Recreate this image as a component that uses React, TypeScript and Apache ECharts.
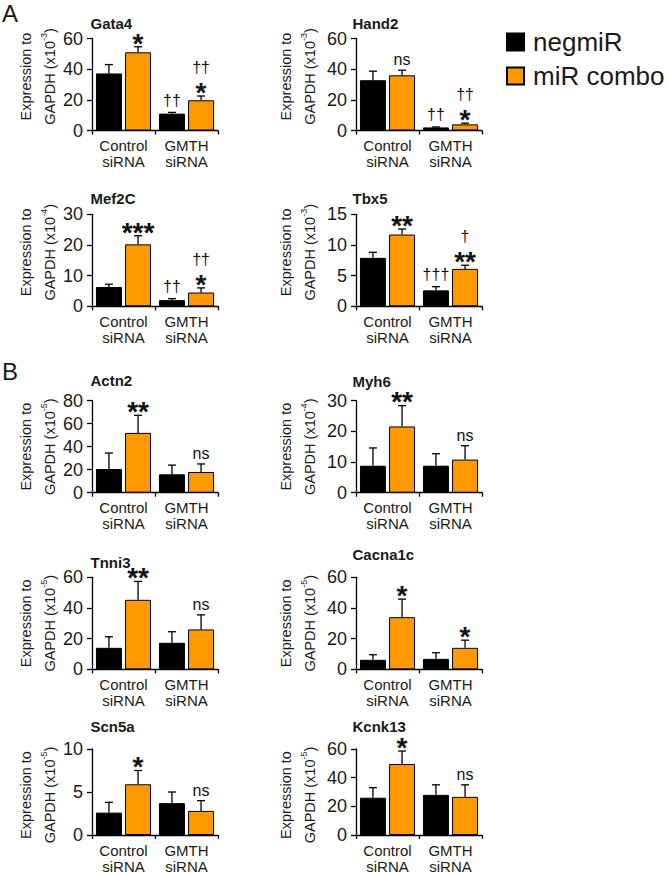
import React, { useEffect, useRef } from "react";
import * as echarts from "echarts";

const FONT = '"Liberation Sans", Arial, Helvetica, sans-serif';
const TEXT = "#1a1a1a";

// ---------- data ----------
const groups = ["Control\nsiRNA", "GMTH\nsiRNA"];
const seriesNames = ["negmiR", "miR combo"];
const panelTitles = ["Gata4", "Hand2", "Mef2C", "Tbx5", "Actn2", "Myh6", "Tnni3", "Cacna1c", "Scn5a", "Kcnk13"];
const exponents = ["-3", "-3", "-4", "-3", "-5", "-4", "-5", "-5", "-5", "-5"];
const yMax = [60, 60, 30, 15, 80, 30, 60, 60, 10, 60];
const yStep = [20, 20, 10, 5, 20, 10, 20, 20, 5, 20];

// values: [Control siRNA, GMTH siRNA]
const negmiR = [
  [37.2, 11], [32.8, 2], [6.3, 2], [7.9, 2.6], [20.6, 16],
  [8.8, 8.8], [14, 17.3], [6.2, 6.8], [2.6, 3.7], [26, 28],
];
const negmiRErr = [
  [5.8, 0.8], [5.9, 0.3], [0.9, 0.5], [0.9, 0.6], [13.9, 8],
  [5.8, 3.9], [7.2, 7.2], [3.3, 4.0], [1.2, 1.3], [7, 7],
];
const miRcombo = [
  [51, 19.7], [36, 4], [20.2, 4.5], [11.7, 6.1], [52, 18],
  [21.6, 10.8], [45.3, 26], [34, 14], [5.9, 2.8], [49.5, 26.6],
];
const miRcomboErr = [
  [3.6, 2.8], [3.3, 0.8], [2.8, 1.5], [0.9, 0.6], [15.3, 7],
  [6.8, 4.5], [12, 9.5], [11.8, 5], [1.6, 1.2], [9.1, 8.4],
];
// significance marks per bar, listed bottom to top:
// [negmiR Control, miR combo Control, negmiR GMTH, miR combo GMTH]
const marks = [
  [[], ["*"], ["††"], ["*", "††"]],
  [[], ["ns"], ["††"], ["*", "††"]],
  [[], ["***"], ["††"], ["*", "††"]],
  [[], ["**"], ["†††"], ["**", "†"]],
  [[], ["**"], [], ["ns"]],
  [[], ["**"], [], ["ns"]],
  [[], ["**"], [], ["ns"]],
  [[], ["*"], [], ["*"]],
  [[], ["*"], [], ["ns"]],
  [[], ["*"], [], ["ns"]],
];

// ---------- layout ----------
const colLeft = [92, 356];
const rowTop = [38.5, 214.3, 400.7, 577.3, 749];
const PLOT_W = 126;
const PLOT_H = 92;
const BAR_W = 26;
const BAR_GAP = 0.12;
const titleY = [23.7, 23.7, 198.3, 198.8, 380.5, 381, 562.8, 554, 726.7, 726];
const titleX = [90.5, 352.5];
const yTitleX1 = [26, 286];
const yTitleX2 = [48.5, 308.5];
const yTitleShift = [-8, -8, -8, -8, 0, 0, 0, 0, 0, 0];

function markStyle(m: string) {
  if (m.indexOf("*") >= 0) return { font: `bold 28px ${FONT}`, shift: 6.8, gap: 10.5 };
  if (m.indexOf("†") >= 0) return { font: `16px ${FONT}`, shift: -1, gap: 11 };
  return { font: `16px ${FONT}`, shift: -1.4, gap: 9 };
}

function buildOption() {
  const grid: any[] = [];
  const xAxis: any[] = [];
  const yAxis: any[] = [];
  const series: any[] = [];
  const graphic: any[] = [];
  const half = (BAR_W * 2 + BAR_W * BAR_GAP) / 2;
  const offs = [-(half - BAR_W / 2), half - BAR_W / 2];

  panelTitles.forEach((title, i) => {
    const col = i % 2;
    const row = Math.floor(i / 2);
    grid.push({ left: colLeft[col], top: rowTop[row], width: PLOT_W, height: PLOT_H });
    xAxis.push({
      type: "category",
      gridIndex: i,
      data: groups,
      axisLine: { lineStyle: { color: "#000", width: 1.3 } },
      axisTick: { show: true, length: 4, lineStyle: { color: "#000", width: 1.3 } },
      axisLabel: { fontSize: 15, lineHeight: 16, margin: 7, color: TEXT, fontFamily: FONT, interval: 0 },
    });
    yAxis.push({
      type: "value",
      gridIndex: i,
      min: 0,
      max: yMax[i],
      interval: yStep[i],
      axisLine: { show: true, lineStyle: { color: "#000", width: 1.3 } },
      axisTick: { show: true, length: 5, lineStyle: { color: "#000", width: 1.3 } },
      axisLabel: { fontSize: 18, margin: 9, color: TEXT, fontFamily: FONT },
      splitLine: { show: false },
    });
    series.push({
      type: "bar",
      name: seriesNames[0],
      xAxisIndex: i,
      yAxisIndex: i,
      data: negmiR[i],
      barWidth: BAR_W,
      barGap: `${BAR_GAP * 100}%`,
      itemStyle: { color: "#000", borderColor: "#000", borderWidth: 1 },
    });
    series.push({
      type: "bar",
      name: seriesNames[1],
      xAxisIndex: i,
      yAxisIndex: i,
      data: miRcombo[i],
      barWidth: BAR_W,
      barGap: `${BAR_GAP * 100}%`,
      itemStyle: { color: "#FF9900", borderColor: "#000", borderWidth: 1 },
    });
    const errData = [
      [0, 0, negmiR[i][0], negmiRErr[i][0]],
      [0, 1, miRcombo[i][0], miRcomboErr[i][0]],
      [1, 0, negmiR[i][1], negmiRErr[i][1]],
      [1, 1, miRcombo[i][1], miRcomboErr[i][1]],
    ];
    const panelMarks = marks[i];
    series.push({
      type: "custom",
      name: "err" + i,
      xAxisIndex: i,
      yAxisIndex: i,
      z: 5,
      data: errData,
      renderItem: (params: any, api: any) => {
        const cat = api.value(0);
        const s = api.value(1);
        const mean = api.value(2);
        const err = api.value(3);
        const base = api.coord([cat, mean]);
        const top = api.coord([cat, mean + err]);
        const x = base[0] + offs[s];
        const children: any[] = [
          { type: "line", shape: { x1: x, y1: base[1], x2: x, y2: top[1] }, style: { stroke: "#000", lineWidth: 1.3 } },
          { type: "line", shape: { x1: x - 4, y1: top[1], x2: x + 4, y2: top[1] }, style: { stroke: "#000", lineWidth: 1.3 } },
        ];
        const list: string[] = panelMarks[params.dataIndex] || [];
        let center = top[1];
        list.forEach((m, k) => {
          const st = markStyle(m);
          center = k === 0 ? top[1] - st.gap : center - 17;
          children.push({
            type: "text",
            style: {
              text: m,
              x,
              y: center + st.shift,
              align: "center",
              verticalAlign: "middle",
              font: st.font,
              fill: "#111",
            },
          });
        });
        return { type: "group", children };
      },
    });

    // title
    graphic.push({
      type: "text",
      x: titleX[col],
      y: titleY[i],
      style: { text: title, font: `bold 15px ${FONT}`, fill: TEXT, align: "left", verticalAlign: "middle" },
    });
    // y axis titles
    const cy = rowTop[row] + PLOT_H / 2 + yTitleShift[i];
    graphic.push({
      type: "text",
      x: yTitleX1[col],
      y: cy,
      rotation: Math.PI / 2,
      style: { text: "Expression to", font: `14.5px ${FONT}`, fill: TEXT, align: "center", verticalAlign: "middle" },
    });
    graphic.push({
      type: "text",
      x: yTitleX2[col],
      y: cy,
      rotation: Math.PI / 2,
      style: {
        text: `{a|GAPDH (x10}{s|${exponents[i]}}{a|)}`,
        align: "center",
        verticalAlign: "middle",
        rich: {
          a: { fontSize: 14.5, fontFamily: FONT, fill: TEXT, lineHeight: 18, verticalAlign: "bottom" },
          s: { fontSize: 9, fontFamily: FONT, fill: TEXT, lineHeight: 10, verticalAlign: "top" },
        },
      },
    });
  });

  graphic.push({
    type: "text",
    x: 2,
    y: 13,
    style: { text: "A", font: `24px ${FONT}`, fill: TEXT, align: "left", verticalAlign: "middle" },
  });
  graphic.push({
    type: "text",
    x: 2,
    y: 371,
    style: { text: "B", font: `24px ${FONT}`, fill: TEXT, align: "left", verticalAlign: "middle" },
  });

  return {
    animation: false,
    backgroundColor: "#fff",
    grid,
    xAxis,
    yAxis,
    series,
    graphic,
    legend: {
      data: seriesNames,
      orient: "vertical",
      left: 506,
      top: 29,
      padding: 0,
      itemWidth: 17,
      itemHeight: 17,
      itemGap: 8,
      icon: "rect",
      textStyle: { fontSize: 26, fontFamily: FONT, color: TEXT, padding: [0, 0, 0, 4] },
      selectedMode: false,
    },
  };
}

export default function App() {
  const ref = useRef<HTMLDivElement>(null);
  useEffect(() => {
    if (!ref.current) return;
    const chart = echarts.init(ref.current, undefined, { renderer: "svg" });
    chart.setOption(buildOption() as any);
    return () => chart.dispose();
  }, []);
  return (
    <div
      ref={ref}
      style={{ position: "fixed", left: 0, top: 0, width: 669, height: 874, background: "#fff" }}
    />
  );
}
